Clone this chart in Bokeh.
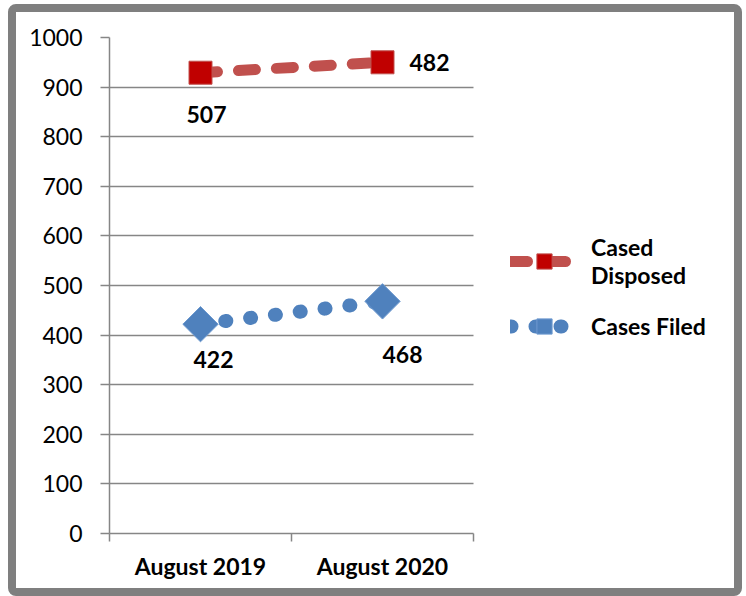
import numpy as np
from bokeh.plotting import figure
from bokeh.models import Range1d, FixedTicker, Legend, LegendItem
from bokeh.core.properties import value
from bokeh.embed import file_html
from bokeh.resources import INLINE

# ---- data ----
months = ["August 2019", "August 2020"]
cases_filed = [422, 468]
cases_disposed = [507, 482]
y_ticks = [0, 100, 200, 300, 400, 500, 600, 700, 800, 900, 1000]

# stacked line chart: disposed is drawn on top of filed
stacked_disposed = [f + d for f, d in zip(cases_filed, cases_disposed)]
xpos = [i + 0.5 for i in range(len(months))]

# ---- styling ----
FONT = "Lato"
GRID = "#868686"
RED_LINE = "#C0504D"
RED_FILL = "#C00000"
BLUE = "#4F81BD"

# label offsets (screen px)
disp_dx = [6, 47]
disp_dy = [42, 0]
filed_dx = [13, 20]
filed_dy = [35, 53]

W, H = 734, 592
BL, BR, BT, BB = 93, 44, 25, 71
frame_w = W - BL - BR
cat_px = 364  # pixel width of the category area
x_end = len(months) * frame_w / cat_px

p = figure(width=W, height=H, output_backend="svg", toolbar_location=None,
           x_range=Range1d(0, x_end), y_range=Range1d(0, 1000),
           min_border_left=BL, min_border_right=BR,
           min_border_top=BT, min_border_bottom=BB,
           styles={"border": "8px solid #7f7f7f", "border-radius": "8px",
                   "margin-left": "8px", "margin-top": "4px"})
p.outline_line_color = None
p.background_fill_color = "white"
p.border_fill_color = "white"

# y axis
p.yaxis.ticker = FixedTicker(ticks=y_ticks)
p.yaxis.major_tick_out = 9
p.yaxis.major_tick_in = 0
p.yaxis.minor_tick_line_color = None
p.yaxis.axis_line_color = GRID
p.yaxis.axis_line_width = 1.5
p.yaxis.major_tick_line_color = GRID
p.yaxis.major_tick_line_width = 1.5
p.yaxis.major_label_standoff = 18
p.yaxis.major_label_text_font = FONT
p.yaxis.major_label_text_font_size = "23px"
p.yaxis.major_label_text_color = "black"

p.ygrid.ticker = FixedTicker(ticks=y_ticks)
p.ygrid.grid_line_color = GRID
p.ygrid.grid_line_width = 1.5
p.ygrid.cross_bounds = (0, len(months))
p.xgrid.grid_line_color = None

# x axis: labels at category centres, tick marks at category boundaries
p.xaxis.ticker = FixedTicker(ticks=xpos, minor_ticks=list(range(len(months) + 1)))
p.xaxis.bounds = (0, len(months))
p.xaxis.major_label_overrides = {x: m for x, m in zip(xpos, months)}
p.xaxis.major_tick_out = 0
p.xaxis.major_tick_in = 0
p.xaxis.minor_tick_out = 8
p.xaxis.minor_tick_in = 0
p.xaxis.minor_tick_line_color = GRID
p.xaxis.minor_tick_line_width = 1.5
p.xaxis.axis_line_color = GRID
p.xaxis.axis_line_width = 1.5
p.xaxis.major_label_standoff = 10
p.xaxis.major_label_text_font = FONT
p.xaxis.major_label_text_font_style = "bold"
p.xaxis.major_label_text_font_size = "23px"
p.xaxis.major_label_text_color = "black"

# series
red_line = p.line(xpos, stacked_disposed, line_color=RED_LINE, line_width=11,
                  line_dash="17 21", line_cap="round")
red_mk = p.scatter(xpos, stacked_disposed, marker="square", size=23,
                   fill_color=RED_FILL, line_color=RED_LINE, line_width=1)
blue_line = p.line(xpos, cases_filed, line_color=BLUE, line_width=14,
                   line_dash="1 24", line_cap="round")
blue_mk = p.scatter(xpos, cases_filed, marker="square", angle=np.pi / 4, size=25,
                    fill_color=BLUE, line_color="#6E9AD0", line_width=1)

# data labels
p.text(xpos, stacked_disposed, text=[str(v) for v in cases_disposed],
       x_offset=disp_dx, y_offset=disp_dy, text_align="center",
       text_baseline="middle", text_font=value(FONT), text_font_style="bold",
       text_font_size="23px", text_color="black")
p.text(xpos, cases_filed, text=[str(v) for v in cases_filed],
       x_offset=filed_dx, y_offset=filed_dy, text_align="center",
       text_baseline="middle", text_font=value(FONT), text_font_style="bold",
       text_font_size="23px", text_color="black")

legend = Legend(items=[
    LegendItem(label="Cased\nDisposed", renderers=[red_line, red_mk]),
    LegendItem(label="Cases Filed", renderers=[blue_line, blue_mk]),
], location=(401, 188))
legend.border_line_color = None
legend.background_fill_alpha = 0
legend.padding = 0
legend.margin = 0
legend.spacing = 18
legend.glyph_width = 68
legend.glyph_height = 38
legend.label_standoff = 13
legend.label_text_font = FONT
legend.label_text_font_style = "bold"
legend.label_text_font_size = "23px"
legend.label_text_color = "black"
p.add_layout(legend, "center")

open("out.html", "w").write(file_html(p, INLINE))
